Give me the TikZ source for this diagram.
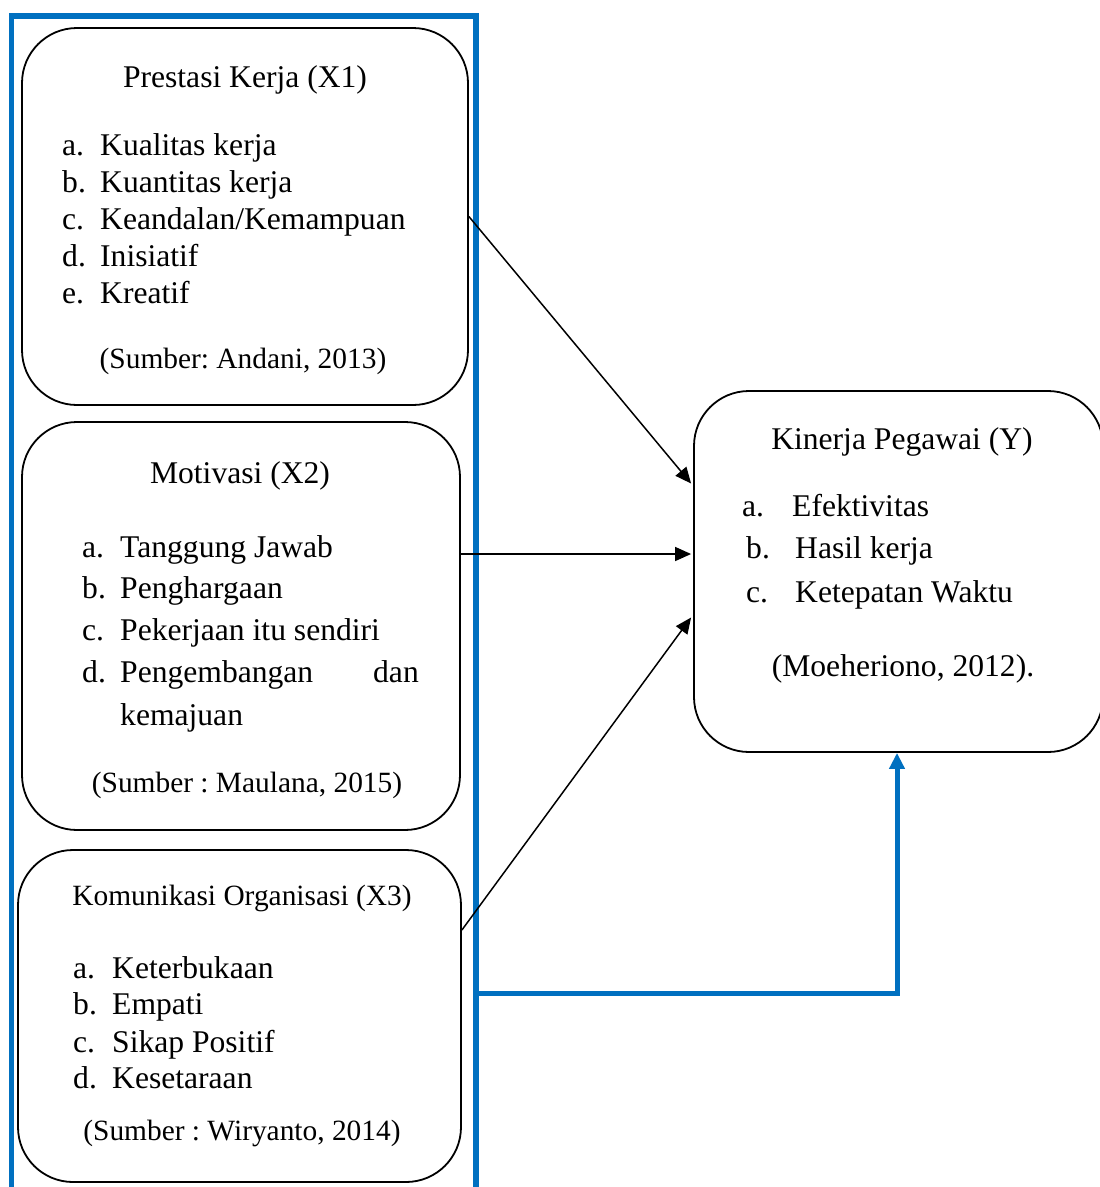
\documentclass[tikz,border=0pt]{standalone}
\usepackage{fontspec}
\setmainfont{Liberation Serif}
\usetikzlibrary{arrows.meta}
\definecolor{wordblue}{RGB}{0,112,192}
\frenchspacing
\begin{document}
\begin{tikzpicture}[x=1pt,y=-1pt,
  box/.style={draw=black, line width=1.8pt, rounded corners=55pt, inner sep=0pt},
  frame/.style={draw=wordblue, line width=5.5pt, inner sep=0pt},
  conn/.style={draw=black, line width=1.5pt, -{Triangle[length=16pt,width=14pt]}},
  bconn/.style={draw=wordblue, line width=5pt, -{Triangle[length=16pt,width=15pt]}},
  txt/.style={inner sep=0pt, font=\fontsize{31.6}{37}\selectfont\frenchspacing},
  stxt/.style={inner sep=0pt, font=\fontsize{29.4}{35}\selectfont\frenchspacing},
  lft/.style={txt, anchor=base west},
  mid/.style={txt, anchor=base},
  smid/.style={stxt, anchor=base}]
\useasboundingbox (0,0) rectangle (1100,1187);
\fill[white] (0,0) rectangle (1100,1187);

% blue frame
\node[frame, minimum width=464.5pt, minimum height=1184pt] (frame) at (243.75,608) {};

% boxes
\node[box, minimum width=446pt, minimum height=377pt] (x1) at (245,216.5) {};
\node[box, minimum width=438pt, minimum height=408pt] (x2) at (241,626) {};
\node[box, minimum width=443pt, minimum height=332pt] (x3) at (239.5,1016) {};
\node[box, minimum width=409pt, minimum height=361pt] (y) at (898.5,571.5) {};

% X1 text
\node[mid] (t1) at (245,87) {Prestasi Kerja (X1)};
\node[lft] (x1a) at (62,155) {a.};  \node[lft] (x1at) at (100,155) {Kualitas kerja};
\node[lft] (x1b) at (62,192) {b.};  \node[lft] (x1bt) at (100,192) {Kuantitas kerja};
\node[lft] (x1c) at (62,229) {c.};  \node[lft] (x1ct) at (100,229) {Keandalan/Kemampuan};
\node[lft] (x1d) at (62,266) {d.};  \node[lft] (x1dt) at (100,266) {Inisiatif};
\node[lft] (x1e) at (62,303) {e.};  \node[lft] (x1et) at (100,303) {Kreatif};
\node[smid] (s1) at (243,368) {(Sumber: Andani, 2013)};

% X2 text
\node[mid] (t2) at (240,483) {Motivasi (X2)};
\node[lft] (x2a) at (82,557) {a.};  \node[lft] (x2at) at (120,557) {Tanggung Jawab};
\node[lft] (x2b) at (82,598) {b.};  \node[lft] (x2bt) at (120,598) {Penghargaan};
\node[lft] (x2c) at (82,640) {c.};  \node[lft] (x2ct) at (120,640) {Pekerjaan itu sendiri};
\node[lft] (x2d) at (82,682) {d.};  \node[lft] (x2dt) at (120,682) {Pengembangan};
\node[txt, anchor=base east] (x2dd) at (419,682) {dan};
\node[lft] (x2e) at (120,725) {kemajuan};
\node[smid] (s2) at (247,792) {(Sumber : Maulana, 2015)};

% X3 text
\node[smid] (t3) at (242,905) {Komunikasi Organisasi (X3)};
\node[lft] (x3a) at (73,978) {a.};  \node[lft] (x3at) at (112,978) {Keterbukaan};
\node[lft] (x3b) at (73,1014) {b.}; \node[lft] (x3bt) at (112,1014) {Empati};
\node[lft] (x3c) at (73,1052) {c.}; \node[lft] (x3ct) at (112,1052) {Sikap Positif};
\node[lft] (x3d) at (73,1088) {d.}; \node[lft] (x3dt) at (112,1088) {Kesetaraan};
\node[smid] (s3) at (242,1140) {(Sumber : Wiryanto, 2014)};

% Y text
\node[mid] (ty) at (902,449) {Kinerja Pegawai (Y)};
\node[lft] (ya) at (742,516) {a.}; \node[lft] (yat) at (792,516) {Efektivitas};
\node[lft] (yb) at (746,558) {b.}; \node[lft] (ybt) at (795,558) {Hasil kerja};
\node[lft] (yc) at (746,602) {c.}; \node[lft] (yct) at (795,602) {Ketepatan Waktu};
\node[mid] (sy) at (903,676) {(Moeheriono, 2012).};

% connectors
\path[conn] (x1.east) -- ([yshift=88pt,xshift=-2pt]y.west);
\coordinate (x2e) at ([yshift=72pt]x2.east);
\path[conn] (x2e) -- ([xshift=-2pt]x2e -| y.west);
\path[conn] ([yshift=86pt]x3.east) -- ([yshift=-46pt,xshift=-2pt]y.west);
\coordinate (fe) at ([xshift=-2pt]frame.east |- 0,993);
\path[bconn] (fe) -| ([xshift=-1.5pt]y.south);
\end{tikzpicture}
\end{document}
